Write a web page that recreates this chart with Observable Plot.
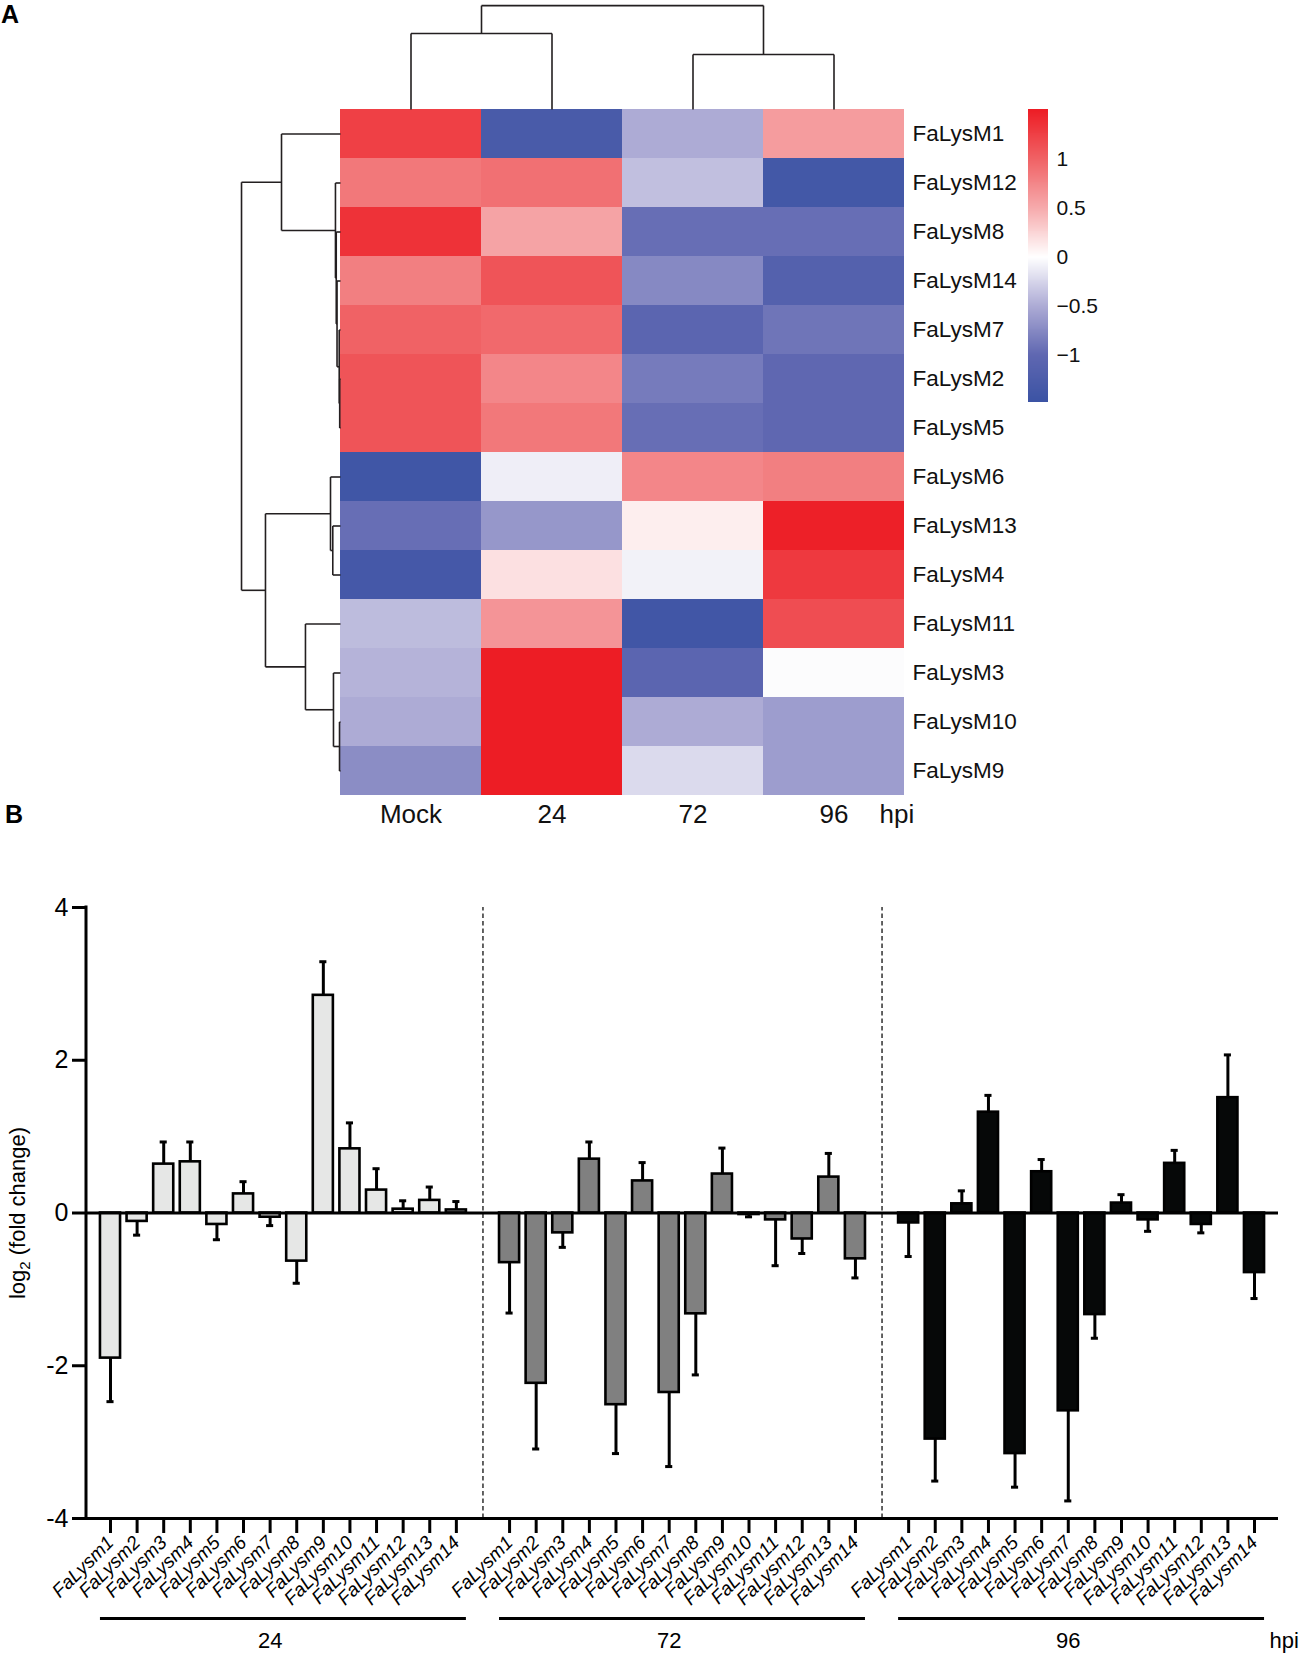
<!DOCTYPE html>
<html><head><meta charset="utf-8">
<script src="https://cdn.jsdelivr.net/npm/d3@7"></script>
<script src="https://cdn.jsdelivr.net/npm/@observablehq/plot@0.6"></script>
<style>
html,body{margin:0;padding:0;background:#fff;overflow:hidden}
#wrap{position:relative;width:1302px;height:1655px;font-family:"Liberation Sans",Arial,Helvetica,sans-serif}
.plabel{position:absolute;font-weight:bold;font-size:25px;line-height:25px;color:#000}
#heat{position:absolute;left:0;top:0;width:1302px}
#legend{position:absolute;left:1028px;top:99px;width:100px}
#bars{position:absolute;left:0;top:840px;width:1302px}
</style></head><body>
<div id="wrap">
<div id="heat"></div><div id="legend"></div><div id="bars"></div>
<div class="plabel" style="left:1px;top:2px">A</div>
<div class="plabel" style="left:5px;top:802px">B</div>
</div>
<script>
// ---------- Panel A data ----------
const timepoints = ["Mock", "24", "72", "96"];
const heatGenes = ["FaLysM1","FaLysM12","FaLysM8","FaLysM14","FaLysM7","FaLysM2","FaLysM5","FaLysM6","FaLysM13","FaLysM4","FaLysM11","FaLysM3","FaLysM10","FaLysM9"];
// row-scaled expression (z), one array per column, in heatGenes order
const zMock = [1.25, 0.85, 1.35, 0.80, 1.00, 1.10, 1.10, -1.42, -0.95, -1.35, -0.40, -0.45, -0.50, -0.72];
const z24   = [-1.30, 0.90, 0.55, 1.10, 0.95, 0.75, 0.85, -0.10, -0.65, 0.18, 0.65, 1.50, 1.50, 1.50];
const z72   = [-0.50, -0.38, -0.95, -0.75, -1.05, -0.85, -0.95, 0.75, 0.10, -0.08, -1.40, -1.05, -0.50, -0.22];
const z96   = [0.60, -1.37, -0.95, -1.15, -0.90, -1.00, -1.00, 0.80, 1.48, 1.30, 1.15, -0.02, -0.60, -0.60];
const zCols = [zMock, z24, z72, z96];
// dendrograms: [height, left, right]; numbers are leaf indices
const rowTree = [1.0, [0.596, 0, [0.051, 1, [0.043, 2, [0.035, 3, [0.013, 4, [0.008, 5, 6]]]]]],
                      [0.758, [0.101, 7, [0.078, 8, 9]], [0.354, 10, [0.071, 11, [0.010, 12, 13]]]]];
const colTree = [1.0, [0.731, 0, 1], [0.529, 2, 3]];
// colour ramp
const colorDomain = [-1.48, -1, -0.5, 0, 0.5, 1, 1.51];
const colorRange  = ["#3b53a4", "#5f67b1", "#adabd5", "#ffffff", "#f6aaac", "#f06265", "#ed1c24"];
const legendTicks = [-1, -0.5, 0, 0.5, 1];

// ---------- Panel B data ----------
const hpiGroups = ["24", "72", "96"];
const barGenes = ["FaLysm1","FaLysm2","FaLysm3","FaLysm4","FaLysm5","FaLysm6","FaLysm7","FaLysm8","FaLysm9","FaLysm10","FaLysm11","FaLysm12","FaLysm13","FaLysm14"];
const mean24 = [-1.90, -0.11, 0.64, 0.67, -0.15, 0.25, -0.055, -0.63, 2.85, 0.84, 0.30, 0.05, 0.165, 0.04];
const sem24  = [0.57, 0.18, 0.29, 0.26, 0.20, 0.16, 0.11, 0.29, 0.44, 0.34, 0.28, 0.11, 0.175, 0.11];
const mean72 = [-0.65, -2.23, -0.26, 0.705, -2.51, 0.42, -2.35, -1.32, 0.51, -0.02, -0.09, -0.34, 0.47, -0.60];
const sem72  = [0.66, 0.86, 0.19, 0.225, 0.64, 0.24, 0.97, 0.80, 0.34, 0.03, 0.60, 0.19, 0.31, 0.25];
const mean96 = [-0.13, -2.96, 0.12, 1.32, -3.15, 0.54, -2.59, -1.33, 0.13, -0.09, 0.65, -0.15, 1.51, -0.78];
const sem96  = [0.44, 0.55, 0.17, 0.22, 0.44, 0.16, 1.18, 0.31, 0.11, 0.15, 0.17, 0.11, 0.56, 0.34];
const groupFill = ["#e6e7e6", "#808080", "#060808"];
const yTicks = [-4, -2, 0, 2, 4];

const FONT = '"Liberation Sans", Arial, Helvetica, sans-serif';

// ---------- build panel A ----------
const cells = heatGenes.flatMap((g, i) => timepoints.map((t, j) => ({gene: g, time: t, row: i, col: j, z: zCols[j][i]})));

function dendroSegments(tree) {
  const segs = [];
  function walk(node) {
    if (typeof node === "number") return {pos: node + 0.5, h: 0};
    const [h, l, r] = node;
    const L = walk(l), R = walk(r);
    segs.push({p1: L.pos, p2: R.pos, h1: h, h2: h});
    segs.push({p1: L.pos, p2: L.pos, h1: L.h, h2: h});
    segs.push({p1: R.pos, p2: R.pos, h1: R.h, h2: h});
    return {pos: (L.pos + R.pos) / 2, h};
  }
  walk(tree);
  return segs;
}
const rowSegs = dendroSegments(rowTree);
const colSegs = dendroSegments(colTree);
const rowDepth = 0.702;  // in column widths
const colDepth = 2.12;   // in row heights

const colorScale = {type: "linear", domain: colorDomain, range: colorRange};

const heat = Plot.plot({
  width: 1302, height: 840,
  marginLeft: 340, marginRight: 398, marginTop: 109, marginBottom: 45,
  x: {domain: [0, timepoints.length], axis: null},
  y: {domain: [0, heatGenes.length], reverse: true, axis: null},
  color: colorScale,
  style: {fontFamily: FONT, background: "white", color: "#000"},
  marks: [
    Plot.rect(cells, {x1: "col", x2: d => d.col + 1, y1: "row", y2: d => d.row + 1, fill: "z", shapeRendering: "crispEdges"}),
    Plot.link(rowSegs, {x1: d => -d.h1 * rowDepth, x2: d => -d.h2 * rowDepth, y1: "p1", y2: "p2", stroke: "#231f20", strokeWidth: 1.6}),
    Plot.link(colSegs, {x1: "p1", x2: "p2", y1: d => -d.h1 * colDepth, y2: d => -d.h2 * colDepth, stroke: "#231f20", strokeWidth: 1.6}),
    Plot.text(heatGenes, {x: timepoints.length, y: (d, i) => i + 0.5, text: d => d, dx: 8, textAnchor: "start", fontSize: 22.5, fill: "#111"}),
    Plot.text(timepoints, {x: (d, i) => i + 0.5, y: heatGenes.length, dy: 19, text: d => d, fontSize: 26, fill: "#111"}),
    Plot.text(["hpi"], {x: timepoints.length, y: heatGenes.length, dx: -25, dy: 19, text: d => d, textAnchor: "start", fontSize: 26, fill: "#111"})
  ]
});
document.getElementById("heat").append(heat);

// colour legend
const rampStep = 0.01;
const ramp = d3.range(colorDomain[0], colorDomain[colorDomain.length - 1], rampStep);
const legend = Plot.plot({
  width: 100, height: 313, marginTop: 10, marginBottom: 10, marginLeft: 0, marginRight: 80,
  x: {domain: [0, 1], axis: null},
  y: {domain: [colorDomain[0], colorDomain[colorDomain.length - 1]], axis: null},
  color: colorScale,
  style: {fontFamily: FONT, background: "transparent", color: "#000"},
  marks: [
    Plot.rect(ramp, {x1: 0, x2: 1, y1: d => d, y2: d => Math.min(d + rampStep + 0.002, colorDomain[colorDomain.length - 1]), fill: d => d + rampStep / 2, shapeRendering: "crispEdges"}),
    Plot.axisY(legendTicks, {anchor: "right", tickSize: 0, tickPadding: 8, fontSize: 21, fill: "#111", tickFormat: d => (d < 0 ? "\u2212" : "") + Math.abs(d), label: null})
  ]
});
document.getElementById("legend").append(legend);

// ---------- build panel B ----------
const means = [mean24, mean72, mean96];
const sems = [sem24, sem72, sem96];
const slotDomain = [];
hpiGroups.forEach((g, gi) => {
  if (gi > 0) slotDomain.push("gap" + gi);
  barGenes.forEach(n => slotDomain.push(g + "|" + n));
});
const geneKeys = slotDomain.filter(k => !k.startsWith("gap"));
const gapKeys = slotDomain.filter(k => k.startsWith("gap"));
const bars = hpiGroups.flatMap((g, gi) => barGenes.map((n, i) => {
  const m = means[gi][i], s = sems[gi][i];
  return {group: g, gi, gene: n, key: g + "|" + n, mean: m, tip: m + (m < 0 ? -s : s)};
}));

const yAxisLine = (index, scales, values, dims) =>
  d3.create("svg:line")
    .attr("x1", dims.marginLeft).attr("x2", dims.marginLeft)
    .attr("y1", scales.y(yTicks[yTicks.length - 1])).attr("y2", scales.y(yTicks[0]))
    .attr("stroke", "#000").attr("stroke-width", 3).attr("stroke-linecap", "square").node();

const barPlot = Plot.plot({
  width: 1302, height: 815,
  marginLeft: 86, marginRight: 24, marginTop: 67, marginBottom: 137,
  x: {type: "band", domain: slotDomain, paddingInner: 0.245, paddingOuter: 0.5245, align: 0.5, round: false, axis: null},
  y: {domain: [yTicks[0], yTicks[yTicks.length - 1]], axis: null},
  style: {fontFamily: FONT, background: "white", color: "#000"},
  marks: [
    Plot.ruleX(gapKeys, {x: d => d, y1: yTicks[0], y2: yTicks[yTicks.length - 1], stroke: "#222", strokeWidth: 1.4, strokeDasharray: "4.5,3"}),
    Plot.ruleX(bars, {x: "key", y1: "mean", y2: "tip", stroke: "#000", strokeWidth: 3}),
    Plot.tickY(bars, {x: "key", y: "tip", stroke: "#000", strokeWidth: 3, insetLeft: 6.5, insetRight: 6.5}),
    ...hpiGroups.map((g, gi) => Plot.barY(bars.filter(d => d.gi === gi), {x: "key", y1: 0, y2: "mean", fill: groupFill[gi], stroke: "#000", strokeWidth: 2.6})),
    Plot.ruleY([0], {stroke: "#000", strokeWidth: 3}),
    Plot.ruleY([yTicks[0]], {stroke: "#000", strokeWidth: 3}),
    yAxisLine,
    Plot.axisY(yTicks, {anchor: "left", tickSize: 14, tickPadding: 4, strokeWidth: 3, fontSize: 25, fill: "#000", tickFormat: d => String(d), label: null}),
    Plot.axisX(geneKeys, {anchor: "bottom", tickSize: 15, tickPadding: 6, tickRotate: -45, strokeWidth: 3, fontSize: 19, fontStyle: "italic", fill: "#000", tickFormat: d => d.split("|")[1], label: null}),
    Plot.ruleY(hpiGroups, {x1: g => g + "|" + barGenes[0], x2: g => g + "|" + barGenes[barGenes.length - 1], y: yTicks[0], dy: 100, stroke: "#000", strokeWidth: 3}),
    Plot.text(hpiGroups, {x: g => g + "|" + barGenes[6], y: yTicks[0], dy: 122, text: d => d, fontSize: 22, fill: "#000"}),
    Plot.text(["hpi"], {x: () => hpiGroups[hpiGroups.length - 1] + "|" + barGenes[barGenes.length - 1], y: yTicks[0], dx: 15, dy: 122, text: d => d, textAnchor: "start", fontSize: 22, fill: "#000"}),
    Plot.text(["log2 (fold change)"], {frameAnchor: "left", dx: -69, rotate: -90, textAnchor: "middle", text: d => d, fontSize: 22, fill: "#000"})
  ]
});
document.getElementById("bars").append(barPlot);

// subscript for log2
d3.select(barPlot).selectAll("text").filter(function() { return this.textContent === "log2 (fold change)"; }).each(function() {
  const t = d3.select(this);
  t.text(null);
  t.append("tspan").text("log");
  t.append("tspan").attr("font-size", 15).attr("dy", 5).text("2");
  t.append("tspan").attr("dy", -5).text(" (fold change)");
});
d3.select(barPlot).selectAll('[aria-label="x-axis tick label"] text').style("font-style", "italic");
</script>
</body></html>
